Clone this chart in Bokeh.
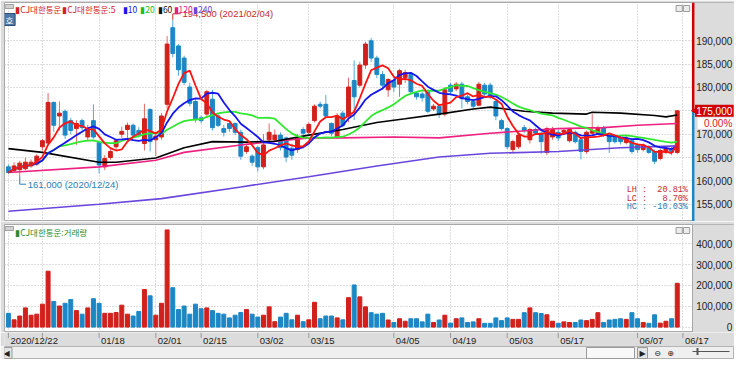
import numpy as np
import pandas as pd
from bokeh.plotting import figure
from bokeh.layouts import column
from bokeh.models import ColumnDataSource, Range1d, FixedTicker, Grid, Label
from bokeh.embed import file_html
from bokeh.resources import INLINE
from bokeh.core.properties import value

# ---------------- data ----------------
stock_name = "CJ대한통운"
holidays = ["2020-12-25", "2020-12-31", "2021-01-01", "2021-02-11", "2021-02-12",
            "2021-03-01", "2021-05-05", "2021-05-19"]
trade_dates = [d for d in pd.bdate_range("2020-12-22", "2021-06-17")
               if d.strftime("%Y-%m-%d") not in holidays]

opens = [163000, 162200, 162400, 162600, 163200, 163600, 167300, 168100, 176800, 173900,
         174900, 172900, 171200, 172900, 169400, 172900, 168200, 163000, 165000, 167300,
         170000, 171000, 171900, 170800, 168000, 175300, 168800, 169400, 176400, 192800,
         188900, 186300, 180100, 177000, 173500, 174300, 177500, 173900, 171200, 172300,
         172300, 170400, 166300, 165300, 167100, 163000, 168800, 168800, 169800, 169200,
         167000, 166700, 171000, 170400, 172900, 176400, 176400, 172300, 169400, 174500,
         173900, 181500, 180500, 184800, 190000, 186300, 182800, 179500, 181500, 180700,
         182100, 182800, 178800, 178600, 179100, 175400, 176000, 174300, 180500, 179700,
         180700, 178000, 177000, 176200, 180500, 180500, 177000, 172900, 171200, 166700,
         167300, 171400, 168800, 171000, 170200, 166100, 169400, 170400, 170400, 168600,
         170400, 168800, 166300, 170200, 170200, 171400, 169800, 169400, 169200, 168200,
         168600, 167700, 166700, 167300, 166300, 164800, 166100, 166900, 166100]
highs = [163500, 164000, 164300, 165000, 164600, 165700, 169000, 178800, 177000, 177000,
         175300, 173500, 173000, 173300, 172000, 176400, 168500, 165500, 166800, 169000,
         171600, 172500, 172300, 171500, 176500, 175500, 170200, 174500, 191000, 194500,
         189300, 186800, 181000, 177500, 174000, 179500, 179500, 174300, 172000, 172800,
         172500, 171000, 167800, 165700, 167500, 170000, 172300, 171000, 170400, 169500,
         168000, 170000, 171500, 172500, 176400, 177000, 178400, 172500, 174500, 175000,
         182100, 185800, 185500, 189800, 190600, 186800, 183500, 182000, 182000, 184000,
         183800, 183200, 179200, 179000, 179500, 176500, 176400, 180000, 181000, 181200,
         181200, 178500, 177500, 181200, 181000, 181000, 177400, 173300, 171500, 168800,
         170200, 172000, 171400, 171400, 170600, 171600, 171600, 171000, 171200, 171400,
         170800, 169200, 170800, 174300, 171800, 171800, 170200, 169800, 169600, 169600,
         169000, 168000, 168000, 167700, 166700, 166900, 167300, 167300, 175000]
lows = [161500, 161800, 161000, 162300, 162800, 163200, 166500, 167700, 170500, 170800,
        169000, 170000, 167700, 170800, 168500, 169000, 161600, 162300, 164500, 166500,
        169200, 169000, 169500, 169300, 166500, 166300, 165300, 168800, 175500, 186500,
        182500, 180500, 176000, 172500, 172300, 173500, 170800, 171500, 169500, 170500,
        169800, 164500, 165800, 163200, 162000, 162500, 168000, 168300, 166500, 164000,
        164500, 166000, 169500, 170000, 172500, 175500, 173500, 169500, 169000, 171500,
        172500, 173000, 180000, 184000, 185500, 182000, 179500, 178000, 179000, 178000,
        181000, 178500, 177400, 177000, 174500, 175000, 173500, 173800, 178500, 179200,
        175500, 176400, 175500, 176000, 178000, 177500, 173000, 170800, 166800, 166000,
        166800, 170200, 168000, 169800, 165800, 165500, 168800, 168500, 170000, 168200,
        168000, 164600, 165800, 169800, 169800, 169400, 166000, 168000, 167800, 167800,
        165800, 166000, 166300, 165800, 163600, 164400, 165700, 165500, 165700]
closes = [161800, 163200, 163800, 164000, 164000, 165300, 168600, 176800, 171900, 174500,
          169800, 170800, 172300, 171400, 171200, 169400, 163400, 164800, 166300, 168600,
          170600, 171900, 169800, 169800, 173300, 168400, 169600, 173900, 189300, 187300,
          183800, 181100, 176600, 173300, 172900, 179100, 171400, 171900, 170400, 171200,
          170400, 165300, 167300, 164000, 163000, 167700, 170400, 169800, 167100, 165100,
          165500, 169200, 170200, 172100, 176000, 176000, 173900, 170200, 173900, 171900,
          180100, 178000, 184800, 189300, 186300, 182800, 180500, 181700, 180100, 183600,
          183200, 179100, 178000, 177800, 174900, 176000, 174300, 179500, 179100, 180700,
          177600, 177000, 176000, 180700, 178600, 178000, 173900, 171200, 167300, 168400,
          169800, 170800, 171000, 170200, 168400, 171200, 171000, 169200, 170800, 171000,
          168400, 166300, 170400, 170800, 171400, 169800, 168400, 168400, 168400, 169200,
          166300, 166700, 167700, 166100, 164200, 166500, 166900, 166100, 175000]
volumes = [66000, 35000, 53000, 92000, 57000, 62000, 110000, 268000, 123000, 101000,
           114000, 132000, 79000, 62000, 92000, 136000, 114000, 66000, 66000, 70000,
           105000, 62000, 53000, 75000, 180000, 150000, 57000, 114000, 466000, 189000,
           84000, 101000, 62000, 110000, 88000, 92000, 79000, 66000, 62000, 44000,
           57000, 70000, 84000, 62000, 48000, 57000, 97000, 26000, 48000, 66000,
           35000, 57000, 26000, 35000, 119000, 40000, 53000, 53000, 44000, 35000,
           141000, 202000, 145000, 97000, 69000, 62000, 66000, 34000, 22000, 40000,
           28000, 40000, 40000, 25000, 62000, 22000, 34000, 57000, 19000, 40000,
           44000, 22000, 25000, 40000, 18000, 18000, 44000, 31000, 44000, 37000,
           37000, 69000, 92000, 69000, 65000, 59000, 28000, 18000, 25000, 22000,
           22000, 34000, 31000, 37000, 69000, 22000, 34000, 37000, 40000, 37000,
           69000, 40000, 22000, 18000, 59000, 19000, 28000, 40000, 210000]

# long moving averages (trading-day index, value)
ma60_x = [0, 6, 16, 19, 26, 31, 36, 42, 47, 53, 59, 65, 70, 76, 82, 85, 91, 96, 102, 103, 108, 114, 116, 118]
ma60_v = [166900, 166100, 164000, 164000, 164900, 167100, 168400, 168300, 168500, 169800, 171000, 172500,
          173300, 174300, 175400, 175800, 174900, 174500, 174300, 174700, 174500, 174000, 173700, 174100]
ma120_x = [0, 16, 26, 31, 41, 53, 59, 68, 76, 85, 97, 105, 111, 118]
ma120_v = [161800, 163000, 164400, 166100, 167700, 169200, 169200, 169400, 169200, 170200, 171200,
           171400, 171900, 172300]
ma240_x = [0, 16, 27, 41, 53, 65, 76, 85, 97, 108, 118]
ma240_v = [153500, 155000, 156200, 158700, 160900, 163200, 165100, 165900, 166300, 167100, 167500]

price_ticks = [155000, 160000, 165000, 170000, 175000, 180000, 185000, 190000]
volume_ticks = [0, 100000, 200000, 300000, 400000]
grid_dates = ["2020-12-22", "2021-01-04", "2021-01-18", "2021-02-01", "2021-02-15", "2021-03-02",
              "2021-03-15", "2021-04-05", "2021-04-19", "2021-05-03", "2021-05-17", "2021-06-07",
              "2021-06-17"]
grid_labels = ["2020/12/22", "", "01/18", "02/01", "02/15", "03/02", "03/15", "04/05", "04/19",
               "05/03", "05/17", "06/07", "06/17"]
legend_names = [stock_name, stock_name + ":5", "10", "20", "60", "120", "240"]
volume_legend = stock_name + ":거래량"
change_text = "0.00%"

# ---------------- styling / layout ----------------
W, AXW, LB = 734, 42, 4
PH, VH, DH, SH = 221, 111, 14, 13
P_TOP, V_TOP = 2, 3
XS, XE = -0.69, 120.69
PPI = (W - LB - AXW) / (XE - XS)          # pixels per trading day
XE2 = XS + (W - LB) / PPI                  # right end incl. the axis strip
GRAY = "#dcdcdc"
GRIDC = "#bcbcbc"
FONT_NUM = "Liberation Sans"
FONT_KR = "Noto Sans CJK KR"
UP, DOWN = "#d2201c", "#1d87c5"
UPW, DOWNW = "#e06a66", "#55a9dc"
MA_COL = {5: "#ff1414", 10: "#1616ee", 20: "#2fe82f", 60: "#000000", 120: "#ee2080", 240: "#6a46dc"}
LEG_COL = ["#d42020", "#d42020", "#1616ee", "#22bb22", "#111111", "#e0207a", "#6a46dc"]
LEG_X = [10.7, 57.7, 118.2, 135.8, 153.4, 169.0, 188.6]

n = len(closes)
xs = list(range(n))
date_str = [d.strftime("%Y-%m-%d") for d in trade_dates]
grid_idx = [date_str.index(g) for g in grid_dates]
is_up = [c >= o for o, c in zip(opens, closes)]
src = ColumnDataSource(dict(
    x=xs, open=opens, high=highs, low=lows, close=closes, vol=volumes,
    top=[max(o, c) for o, c in zip(opens, closes)],
    bot=[min(o, c) for o, c in zip(opens, closes)],
    color=[UP if u else DOWN for u in is_up],
    wick=[UPW if u else DOWNW for u in is_up]))

xr = Range1d(XS, XE2)


def base_fig(h, yr, top):
    return figure(width=W, height=h, x_range=xr, y_range=yr, x_axis_type=None, y_axis_type=None,
                  output_backend="svg", toolbar_location=None,
                  min_border_left=LB, min_border_right=0, min_border_top=top, min_border_bottom=0,
                  background_fill_color="white", border_fill_color=GRAY,
                  outline_line_color="#a8a8a8")


def grids(f, ticks):
    f.add_layout(Grid(dimension=1, ticker=FixedTicker(ticks=ticks), grid_line_color=GRIDC,
                      grid_line_dash="1 2"))
    f.add_layout(Grid(dimension=0, ticker=FixedTicker(ticks=grid_idx), grid_line_color=GRIDC,
                      grid_line_dash="1 2"))


def axis_strip(f, yr, ticks):
    # gray value-axis strip on the right, tick labels placed through the y scale
    f.quad(left=[XE], right=[XE2 + 1], bottom=[yr.start], top=[yr.end],
           fill_color=GRAY, line_color=None)
    f.text(x=[XE2 - 2.2 / PPI] * len(ticks), y=ticks, text=[f"{t:,}" for t in ticks],
           text_align="right", text_baseline="middle", text_font=value(FONT_NUM),
           text_font_size="10px", text_color="#222222")


def panel_icons(f, yr, fh):
    # tiny window buttons in the panel corners
    px = (yr.end - yr.start) / fh
    f.quad(left=[XE - 2.9, XE - 1.6], right=[XE - 1.8, XE - 0.5],
           bottom=[yr.end - 9 * px] * 2, top=[yr.end - 3 * px] * 2,
           fill_color="#ececec", line_color="#9c9c9c")
    f.quad(left=[XS + 0.1], right=[XS + 1.6], bottom=[yr.end - 6 * px], top=[yr.end - 2 * px],
           fill_color="#d0d0d0", line_color="#a0a0a0")


def screen_label(f, x, y, text, color, size="9px", font=FONT_KR, **kw):
    f.add_layout(Label(x=x, y=y, x_units="screen", y_units="screen", text=text, text_color=color,
                       text_font=font, text_font_size=size, text_baseline="middle", **kw))


# ---------------- price panel ----------------
yr_p = Range1d(151300, 198200)
p = base_fig(PH, yr_p, P_TOP)
grids(p, price_ticks)
pfh = PH - P_TOP
won_px = (yr_p.end - yr_p.start) / pfh

p.segment(x0="x", y0="low", x1="x", y1="high", line_color="wick", line_width=1, source=src)
p.vbar(x="x", width=0.68, top="top", bottom="bot", fill_color="color", line_color="color",
       line_width=1, source=src)

cl = pd.Series(closes, dtype=float)
p.line(ma240_x, ma240_v, line_color=MA_COL[240], line_width=1.6)
p.line(ma120_x, ma120_v, line_color=MA_COL[120], line_width=1.6)
p.line(ma60_x, ma60_v, line_color=MA_COL[60], line_width=1.6)
for per in (20, 10, 5):
    p.line(xs, cl.rolling(per, min_periods=1).mean().tolist(), line_color=MA_COL[per], line_width=1.8)

# high / low markers
hi = int(np.argmax(highs))
lo = int(np.argmin(lows))
hy = highs[hi] + 6 * won_px
ly = lows[lo] - 8 * won_px
p.segment(x0=[hi, hi, lo, lo], y0=[highs[hi], hy, lows[lo], ly],
          x1=[hi, hi + 1.4, lo, lo + 1.1], y1=[hy, hy, ly, ly],
          line_color=["#cc2a2a", "#cc2a2a", "#2a7db8", "#2a7db8"], line_width=1)
p.text(x=[hi + 1.7, lo + 1.4], y=[hy, ly],
       text=[f"{highs[hi]:,} ({trade_dates[hi].strftime('%Y/%m/%d')})",
             f"{lows[lo]:,} ({trade_dates[lo].strftime('%Y/%m/%d')})"],
       text_color=["#cc2a2a", "#2a7db8"], text_font=value(FONT_NUM), text_font_size="9.5px",
       text_baseline="middle")

# LH / LC / HC
H, L, C = max(highs), min(lows), closes[-1]
stats = [("LH", (H - L) / L * 100, "#cc2a2a"), ("LC", (C - L) / L * 100, "#cc2a2a"),
         ("HC", (C - H) / H * 100, "#2a7db8")]
for k, (nm, val, col) in enumerate(stats):
    txt = f"{nm} : {val:6.2f}%".replace(" ", "\u00a0")
    p.add_layout(Label(x=XE - 0.8, y=31.7 - 8.7 * k, x_units="data", y_units="screen", text=txt,
                       text_align="right", text_baseline="middle", text_color=col,
                       text_font="Liberation Mono", text_font_size="8.5px"))

# value axis strip + current price tag
axis_strip(p, yr_p, price_ticks)
panel_icons(p, yr_p, pfh)
last = closes[-1]
p.segment(x0=[XE + 0.12, XE + 0.12], y0=[last, last], x1=[XE + 0.12, XE + 0.12],
          y1=[yr_p.end, yr_p.start], line_color=["#d00000", "#1d87c5"], line_width=2.5)
p.quad(left=[XE + 0.45], right=[XE2 - 0.15], bottom=[last - 6 * won_px], top=[last + 6 * won_px],
       fill_color="#d00000", line_color=None)
p.quad(left=[XE + 0.9], right=[XE2 - 0.15], bottom=[last - 18 * won_px], top=[last - 7 * won_px],
       fill_color="white", line_color=None)
p.scatter(x=[XE + 0.55], y=[last], marker="triangle", angle=np.pi / 2, size=7,
          fill_color="#d00000", line_color="#d00000")
p.text(x=[XE2 - 2.2 / PPI, XE2 - 2.2 / PPI], y=[last, last - 12.5 * won_px],
       text=[f"{last:,}", change_text], text_color=["white", "#d42020"],
       text_align="right", text_baseline="middle", text_font=value(FONT_NUM), text_font_size="10px")

# legend row
for xpos, name, col in zip(LEG_X, legend_names, LEG_COL):
    screen_label(p, xpos, pfh - 6.5, "\u25ae" + name, col, size="8.5px")
screen_label(p, -1, pfh - 17, "\u00a0호\u00a0", "white", size="8.5px",
             background_fill_color="#4e78a8", border_line_color="#2e4e78")

# ---------------- volume panel ----------------
yr_v = Range1d(-26000, 492000)
v = base_fig(VH, yr_v, V_TOP)
grids(v, volume_ticks)
vfh = VH - V_TOP
v.vbar(x="x", width=0.7, top="vol", bottom=0, fill_color="color", line_color="color",
       line_width=1, source=src)
axis_strip(v, yr_v, volume_ticks)
panel_icons(v, yr_v, vfh)
v.segment(x0=[XE], y0=[yr_v.start], x1=[XE], y1=[yr_v.end], line_color="#a8a8a8", line_width=1)
screen_label(v, 10.7, vfh - 7.5, "\u25ae" + volume_legend, "#2e8b2e", size="8.5px")

# ---------------- date axis ----------------
d = figure(width=W, height=DH, x_range=xr, y_range=Range1d(0, 1),
           x_axis_type=None, y_axis_type=None, output_backend="svg", toolbar_location=None,
           min_border_left=LB, min_border_right=0, min_border_top=0, min_border_bottom=0,
           background_fill_color=GRAY, border_fill_color=GRAY, outline_line_color=None)
d.segment(x0=grid_idx, y0=[1] * len(grid_idx), x1=grid_idx, y1=[0.6] * len(grid_idx),
          line_color="#9a9a9a", line_width=1)
d.text(x=[g + 0.35 for g in grid_idx], y=[0.45] * len(grid_idx), text=grid_labels,
       text_font=value(FONT_NUM), text_font_size="9.5px", text_color="#222222",
       text_baseline="middle", text_align="left")

# ---------------- scroll bar strip ----------------
s = figure(width=W, height=SH, x_range=Range1d(0, W - LB), y_range=Range1d(0, SH),
           x_axis_type=None, y_axis_type=None, output_backend="svg", toolbar_location=None,
           min_border_left=LB, min_border_right=0, min_border_top=0, min_border_bottom=0,
           background_fill_color="#efefef", border_fill_color="#efefef", outline_line_color="#b4b4b4")
s.rect(x=[2, 606, 638], y=[6.5, 6.5, 6.5], width=[11, 48, 10], height=[11, 11, 11],
       fill_color=["#e4e4e4", "#f8f8f8", "#e4e4e4"], line_color="#9a9a9a")
s.text(x=[2, 638, 653, 666], y=[6.5] * 4, text=["\u25c0", "\u25b6", "\u2296", "\u2295"],
       text_font=value("DejaVu Sans"), text_font_size="8px", text_color="#222222",
       text_align="center", text_baseline="middle")
s.segment(x0=[688], y0=[8], x1=[725], y1=[8], line_color="#555555", line_width=1)
s.rect(x=[693], y=[8], width=[2], height=[7], fill_color="#555555", line_color=None)

layout = column(p, v, d, s, spacing=0)
with open("out.html", "w", encoding="utf-8") as fh:
    fh.write(file_html(layout, INLINE))
